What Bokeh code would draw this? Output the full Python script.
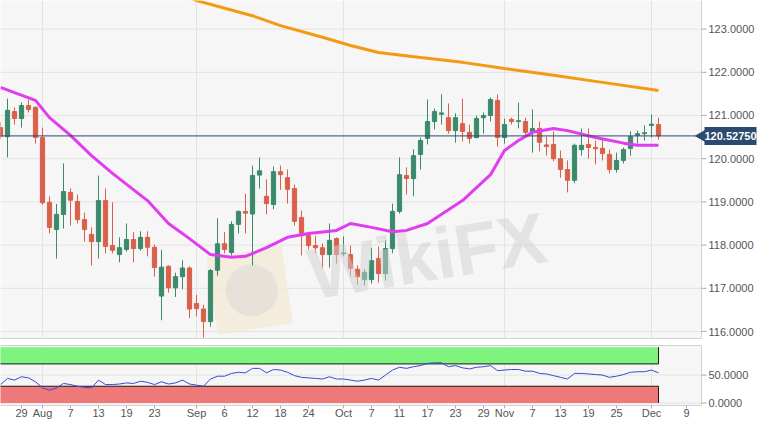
import math
import pandas as pd
from bokeh.plotting import figure
from bokeh.models import ColumnDataSource, Label, Range1d
from bokeh.core.properties import value
from bokeh.embed import file_html
from bokeh.resources import INLINE

# ---------------- data (EUR/JPY daily) ----------------
first_day = "2019-07-24"
last_day = "2019-12-03"

opens = [120.72, 120.51, 121.09, 120.93, 121.23, 121.19, 120.49, 118.99, 118.36, 118.71,
         119.22, 119.01, 118.59, 118.25, 118.08, 119.03, 117.99, 117.78, 117.90, 118.13,
         117.92, 118.18, 117.95, 116.82, 117.51, 117.01, 117.27, 117.47, 116.65, 116.52,
         116.23, 117.42, 118.03, 117.83, 118.48, 118.78, 118.72, 119.62, 119.13, 118.94,
         119.70, 119.56, 119.31, 118.64, 118.22, 117.99, 117.94, 117.78, 118.15, 117.80,
         117.78, 117.44, 117.20, 117.20, 117.69, 117.34, 117.92, 118.78, 119.61, 119.54,
         120.10, 120.47, 120.86, 121.03, 120.95, 120.65, 120.81, 120.61, 120.49, 120.95,
         121.00, 121.35, 120.49, 120.91, 120.86, 120.86, 120.61, 120.70, 120.32, 120.33,
         120.00, 119.75, 119.50, 120.21, 120.33, 120.26, 120.24, 120.10, 119.75, 119.96,
         120.24, 120.54, 120.58, 120.77, 120.79]
highs = [120.85, 121.39, 121.19, 121.30, 121.37, 121.21, 120.72, 119.13, 118.95, 119.89,
         119.31, 119.17, 118.75, 118.41, 119.61, 119.31, 118.99, 118.18, 118.50, 118.30,
         118.32, 118.32, 118.01, 117.89, 117.53, 117.36, 117.65, 117.51, 116.85, 116.62,
         117.45, 118.62, 118.30, 118.55, 118.80, 119.19, 119.84, 120.03, 119.52, 119.82,
         119.84, 119.75, 119.40, 118.80, 118.27, 118.22, 118.04, 118.50, 118.18, 118.20,
         117.99, 117.53, 117.44, 117.94, 117.97, 118.11, 118.96, 120.03, 119.80, 120.22,
         120.49, 121.37, 121.16, 121.49, 121.28, 121.05, 121.39, 120.79, 121.00, 121.07,
         121.42, 121.49, 120.93, 120.95, 121.30, 120.95, 121.14, 120.86, 120.51, 120.63,
         120.19, 119.96, 120.35, 120.70, 120.70, 120.42, 120.44, 120.21, 120.14, 120.26,
         120.63, 120.65, 120.77, 121.02, 120.95]
lows = [120.45, 120.03, 120.79, 120.72, 121.07, 120.35, 118.93, 118.27, 117.69, 118.38,
        118.45, 118.50, 118.08, 117.53, 117.69, 117.81, 117.81, 117.60, 117.85, 117.60,
        117.87, 117.74, 117.27, 116.26, 116.90, 116.80, 116.98, 116.31, 116.35, 115.86,
        116.11, 117.29, 117.81, 117.76, 118.27, 118.27, 117.53, 119.31, 118.71, 118.83,
        119.28, 118.96, 118.45, 117.76, 117.90, 117.81, 117.46, 117.48, 117.57, 117.74,
        117.27, 117.08, 117.06, 117.11, 117.13, 117.18, 117.81, 118.73, 119.17, 119.13,
        119.75, 120.33, 120.68, 120.79, 120.58, 120.37, 120.40, 120.35, 120.47, 120.58,
        120.86, 120.28, 120.35, 120.79, 120.70, 120.49, 120.14, 120.17, 120.07, 119.94,
        119.56, 119.22, 119.43, 120.07, 120.00, 119.87, 119.96, 119.66, 119.68, 119.89,
        120.07, 120.35, 120.42, 120.49, 120.44]
closes = [120.52, 121.12, 120.93, 121.23, 121.14, 120.49, 118.98, 118.41, 118.71, 119.24,
          119.04, 118.59, 118.36, 118.08, 119.03, 117.97, 117.88, 117.94, 118.13, 117.92,
          118.18, 117.95, 117.48, 117.49, 117.01, 117.27, 117.47, 116.52, 116.53, 116.23,
          117.41, 118.03, 117.90, 118.48, 118.78, 118.74, 119.61, 119.72, 118.96, 119.70,
          119.63, 119.29, 118.55, 118.27, 117.99, 117.94, 117.78, 118.11, 117.78, 117.82,
          117.46, 117.27, 117.37, 117.64, 117.34, 117.92, 118.78, 119.63, 119.54, 120.07,
          120.42, 120.86, 121.09, 121.06, 120.65, 120.95, 120.63, 120.47, 120.93, 121.00,
          121.37, 120.49, 120.79, 120.86, 120.88, 120.61, 120.70, 120.38, 120.28, 120.00,
          119.75, 119.50, 120.31, 120.31, 120.26, 120.23, 120.12, 119.75, 119.96, 120.21,
          120.51, 120.58, 120.60, 120.80, 120.5275]
last_price = 120.5275

# moving averages: (bar number, value) samples
ma_fast_bar = [0, 2, 5, 7, 10, 13, 16, 21, 24, 27, 30, 33, 35, 38, 41, 44, 48, 50, 53, 56,
               58, 61, 66, 70, 72, 74, 76, 79, 81, 85, 89, 91, 94]
ma_fast = [121.65, 121.53, 121.35, 120.95, 120.54, 120.07, 119.66, 119.03, 118.50, 118.15,
           117.78, 117.72, 117.74, 117.94, 118.18, 118.27, 118.34, 118.50, 118.41, 118.31,
           118.34, 118.50, 119.03, 119.63, 120.19, 120.42, 120.61, 120.70, 120.65, 120.49,
           120.36, 120.31, 120.31]
ma_slow_bar = [26, 28, 36, 40, 46, 50, 54, 60, 66, 72, 79, 85, 94]
ma_slow = [123.80, 123.66, 123.31, 123.08, 122.81, 122.62, 122.46, 122.34, 122.23, 122.09,
           121.93, 121.79, 121.58]

rsi = [33, 44, 41, 47,
       45, 38, 27, 23, 27, 35, 33, 30, 28, 27,
       41, 33, 33, 34, 36, 35, 39, 37, 33, 38,
       34, 36, 41, 34, 32, 30, 43, 48, 48, 53,
       55, 54, 62, 62, 54, 60, 59, 55, 49, 46,
       45, 44, 43, 47, 43, 43, 41, 39, 41, 44,
       41, 50, 59, 64, 62, 65, 67, 71, 72, 72,
       65, 67, 63, 61, 64, 65, 67, 58, 59, 60,
       60, 57, 57, 53, 52, 49, 46, 43, 53, 53,
       52, 51, 50, 46, 48, 51, 55, 56, 56, 59, 54]
rsi_overbought = 70
rsi_oversold = 30
rsi_top = 100
rsi_bottom = 0

y_ticks = [116, 117, 118, 119, 120, 121, 122, 123]
rsi_ticks = [0, 50]
tick_dates = ["2019-07-29", "2019-08-01", "2019-08-07", "2019-08-13", "2019-08-19",
              "2019-08-23", "2019-09-02", "2019-09-06", "2019-09-12", "2019-09-18",
              "2019-09-24", "2019-10-01", "2019-10-07", "2019-10-11", "2019-10-17",
              "2019-10-23", "2019-10-29", "2019-11-01", "2019-11-07", "2019-11-13",
              "2019-11-19", "2019-11-25", "2019-12-02", "2019-12-09"]
tick_labels = ["29", "Aug", "7", "13", "19", "23", "Sep", "6", "12", "18", "24", "Oct",
               "7", "11", "17", "23", "29", "Nov", "7", "13", "19", "25", "Dec", "9"]
month_dates = ["2019-08-01", "2019-09-02", "2019-10-01", "2019-11-01", "2019-12-02"]

# ---------------- layout (pixels) ----------------
W, H = 763, 419
BAR_PX = 7.0
PLOT_RIGHT_PX = 701
MAIN_BOTTOM_PX = 338
PRICE_TOP, PRICE_BOTTOM = 123.662, 115.838           # price at top / bottom of main panel
RSI_TOP_PX, RSI_BOTTOM_PX = 345, 405
RSI_HI, RSI_LO = 103.0, -4.5                          # rsi at top / bottom of rsi panel
XLABEL_PX = 412

ppu = MAIN_BOTTOM_PX / (PRICE_TOP - PRICE_BOTTOM)
y_start = PRICE_BOTTOM - (H - MAIN_BOTTOM_PX) / ppu
k = (RSI_BOTTOM_PX - RSI_TOP_PX) / (RSI_HI - RSI_LO)
rsi_start = RSI_LO - (H - RSI_BOTTOM_PX) / k
rsi_end = RSI_HI + RSI_TOP_PX / k
x_end_bar = W / BAR_PX
plot_end = PLOT_RIGHT_PX / BAR_PX
px = 1.0 / BAR_PX                                     # one pixel in bar units
rsi_label_y = RSI_LO - (XLABEL_PX - RSI_BOTTOM_PX) / k
rsi_tick_end = RSI_LO - 3 / k

# ---------------- helpers ----------------
days = pd.bdate_range(first_day, "2019-12-31")
pos = {d.strftime("%Y-%m-%d"): n for n, d in enumerate(days)}
n_bars = len(pd.bdate_range(first_day, last_day))
bars = list(range(n_bars))
last_bar = bars[-1]
tick_idx = [pos[d] for d in tick_dates]
month_idx = [pos[d] for d in month_dates]

UP = "#3a8a6b"
DOWN = "#d9604a"
NAVY = "#2c4a6e"
FONT_NAME = "Liberation Sans"
FONT = value(FONT_NAME)
GRID = "#e3e3e3"
BG = "#f6f6f6"
BORDER = "#d2d2d2"
TICK = "#aaaaaa"
LABEL = "#555555"

src = ColumnDataSource(dict(
    n=bars, high=highs, low=lows,
    top=[max(o, c) for o, c in zip(opens, closes)],
    bottom=[min(o, c) for o, c in zip(opens, closes)],
    color=[UP if c >= o else DOWN for o, c in zip(opens, closes)],
))

p = figure(width=W, height=H, x_range=Range1d(0, x_end_bar), y_range=Range1d(y_start, PRICE_TOP),
           output_backend="svg", toolbar_location=None, x_axis_location=None,
           y_axis_location=None, min_border=0, min_border_left=0, min_border_right=0,
           min_border_top=0, min_border_bottom=0, background_fill_color="white",
           border_fill_color="white", outline_line_color=None)
p.grid.visible = False
p.extra_y_ranges = {"rsi": Range1d(rsi_start, rsi_end)}

# ---- panel backgrounds with borders
p.quad(left=[-2], right=[plot_end], bottom=[PRICE_BOTTOM], top=[PRICE_TOP + 1],
       fill_color=BG, line_color=BORDER, line_width=1)
p.quad(left=[-2], right=[plot_end], bottom=[RSI_LO], top=[RSI_HI], fill_color=BG,
       line_color=BORDER, line_width=1, y_range_name="rsi")

# ---- grids
p.segment(x0=[0] * len(y_ticks), x1=[plot_end] * len(y_ticks), y0=y_ticks, y1=y_ticks,
          line_color=GRID, line_width=1)
p.segment(x0=month_idx, x1=month_idx, y0=[PRICE_BOTTOM] * len(month_idx),
          y1=[PRICE_TOP] * len(month_idx), line_color=GRID, line_width=1)
p.segment(x0=[0] * len(rsi_ticks), x1=[plot_end] * len(rsi_ticks), y0=rsi_ticks, y1=rsi_ticks,
          line_color=GRID, line_width=1, y_range_name="rsi")
p.segment(x0=month_idx, x1=month_idx, y0=[RSI_LO] * len(month_idx),
          y1=[RSI_HI] * len(month_idx), line_color=GRID, line_width=1, y_range_name="rsi")

# ---- right axis (price)
p.segment(x0=[plot_end] * len(y_ticks), x1=[plot_end + 5 * px] * len(y_ticks), y0=y_ticks,
          y1=y_ticks, line_color=TICK, line_width=1)
p.text(x=[plot_end + 7 * px] * len(y_ticks), y=y_ticks, text=["%.4f" % t for t in y_ticks],
       text_font=FONT, text_font_size="11px", text_color=LABEL, text_baseline="middle",
       text_align="left")

# ---- watermark
p.rect(x=[35.6], y=[116.95], width=76, height=78, width_units="screen", height_units="screen",
       angle=0.15, fill_color="#f3ead3", fill_alpha=0.7, line_color=None)
p.scatter(x=[35.9], y=[116.95], size=52, marker="circle", fill_color="#d8d8d8",
          fill_alpha=0.5, line_color=None)
p.add_layout(Label(x=45.0, y=116.40, text="WikiFX", text_font=FONT_NAME, text_font_size="72px",
                   text_font_style="bold", text_color="#cfcfcf", text_alpha=0.5, angle=0.16))

# ---- candles
p.segment(x0="n", y0="low", x1="n", y1="high", line_color="color", line_width=1, source=src)
p.vbar(x="n", width=0.6, top="top", bottom="bottom", fill_color="color", line_color="color",
       line_width=1, source=src)

# ---- moving averages
p.line(ma_slow_bar, ma_slow, line_color="#f29a12", line_width=3)
p.line(ma_fast_bar, ma_fast, line_color="#e23cf0", line_width=3)

# ---- last price line and tag
p.segment(x0=[0], x1=[plot_end], y0=[last_price], y1=[last_price], line_color=NAVY,
          line_width=1)
p.scatter(x=[plot_end + 1 * px], y=[last_price], marker="triangle", angle=math.pi / 2,
          size=12, fill_color=NAVY, line_color=NAVY)
p.add_layout(Label(x=plot_end + 3 * px, y=last_price, text="%.5f" % last_price,
                   text_font=FONT_NAME, text_font_size="11px", text_font_style="bold",
                   text_color="white", text_baseline="middle", text_align="left",
                   background_fill_color=NAVY, padding=(0, 5)))

# ---- RSI panel
band_left = -5
p.quad(left=[band_left, band_left], right=[last_bar, last_bar],
       bottom=[rsi_overbought, rsi_bottom], top=[rsi_top, rsi_oversold],
       fill_color=["#7ef47e", "#ef7878"], line_color=None, y_range_name="rsi")
p.segment(x0=[band_left, band_left, last_bar, last_bar],
          y0=[rsi_overbought, rsi_oversold, rsi_overbought, rsi_bottom],
          x1=[last_bar, last_bar, last_bar, last_bar],
          y1=[rsi_overbought, rsi_oversold, rsi_top, rsi_oversold],
          line_color="#1a1a1a", line_width=1, y_range_name="rsi")
p.line(bars, rsi, line_color="#3848d8", line_width=1, y_range_name="rsi")

# RSI right axis
p.segment(x0=[plot_end] * len(rsi_ticks), x1=[plot_end + 5 * px] * len(rsi_ticks),
          y0=rsi_ticks, y1=rsi_ticks, line_color=TICK, y_range_name="rsi")
p.text(x=[plot_end + 7 * px] * len(rsi_ticks), y=rsi_ticks, text=["%.4f" % t for t in rsi_ticks],
       text_font=FONT, text_font_size="11px", text_color=LABEL, text_baseline="middle",
       text_align="left", y_range_name="rsi")

# date axis
p.segment(x0=tick_idx, x1=tick_idx, y0=[RSI_LO] * len(tick_idx), y1=[rsi_tick_end] * len(tick_idx),
          line_color=TICK, y_range_name="rsi")
p.text(x=tick_idx, y=[rsi_label_y] * len(tick_idx), text=tick_labels, text_font=FONT,
       text_font_size="11px", text_color=LABEL, text_baseline="middle", text_align="center",
       y_range_name="rsi")

open("out.html", "w").write(file_html(p, INLINE))
